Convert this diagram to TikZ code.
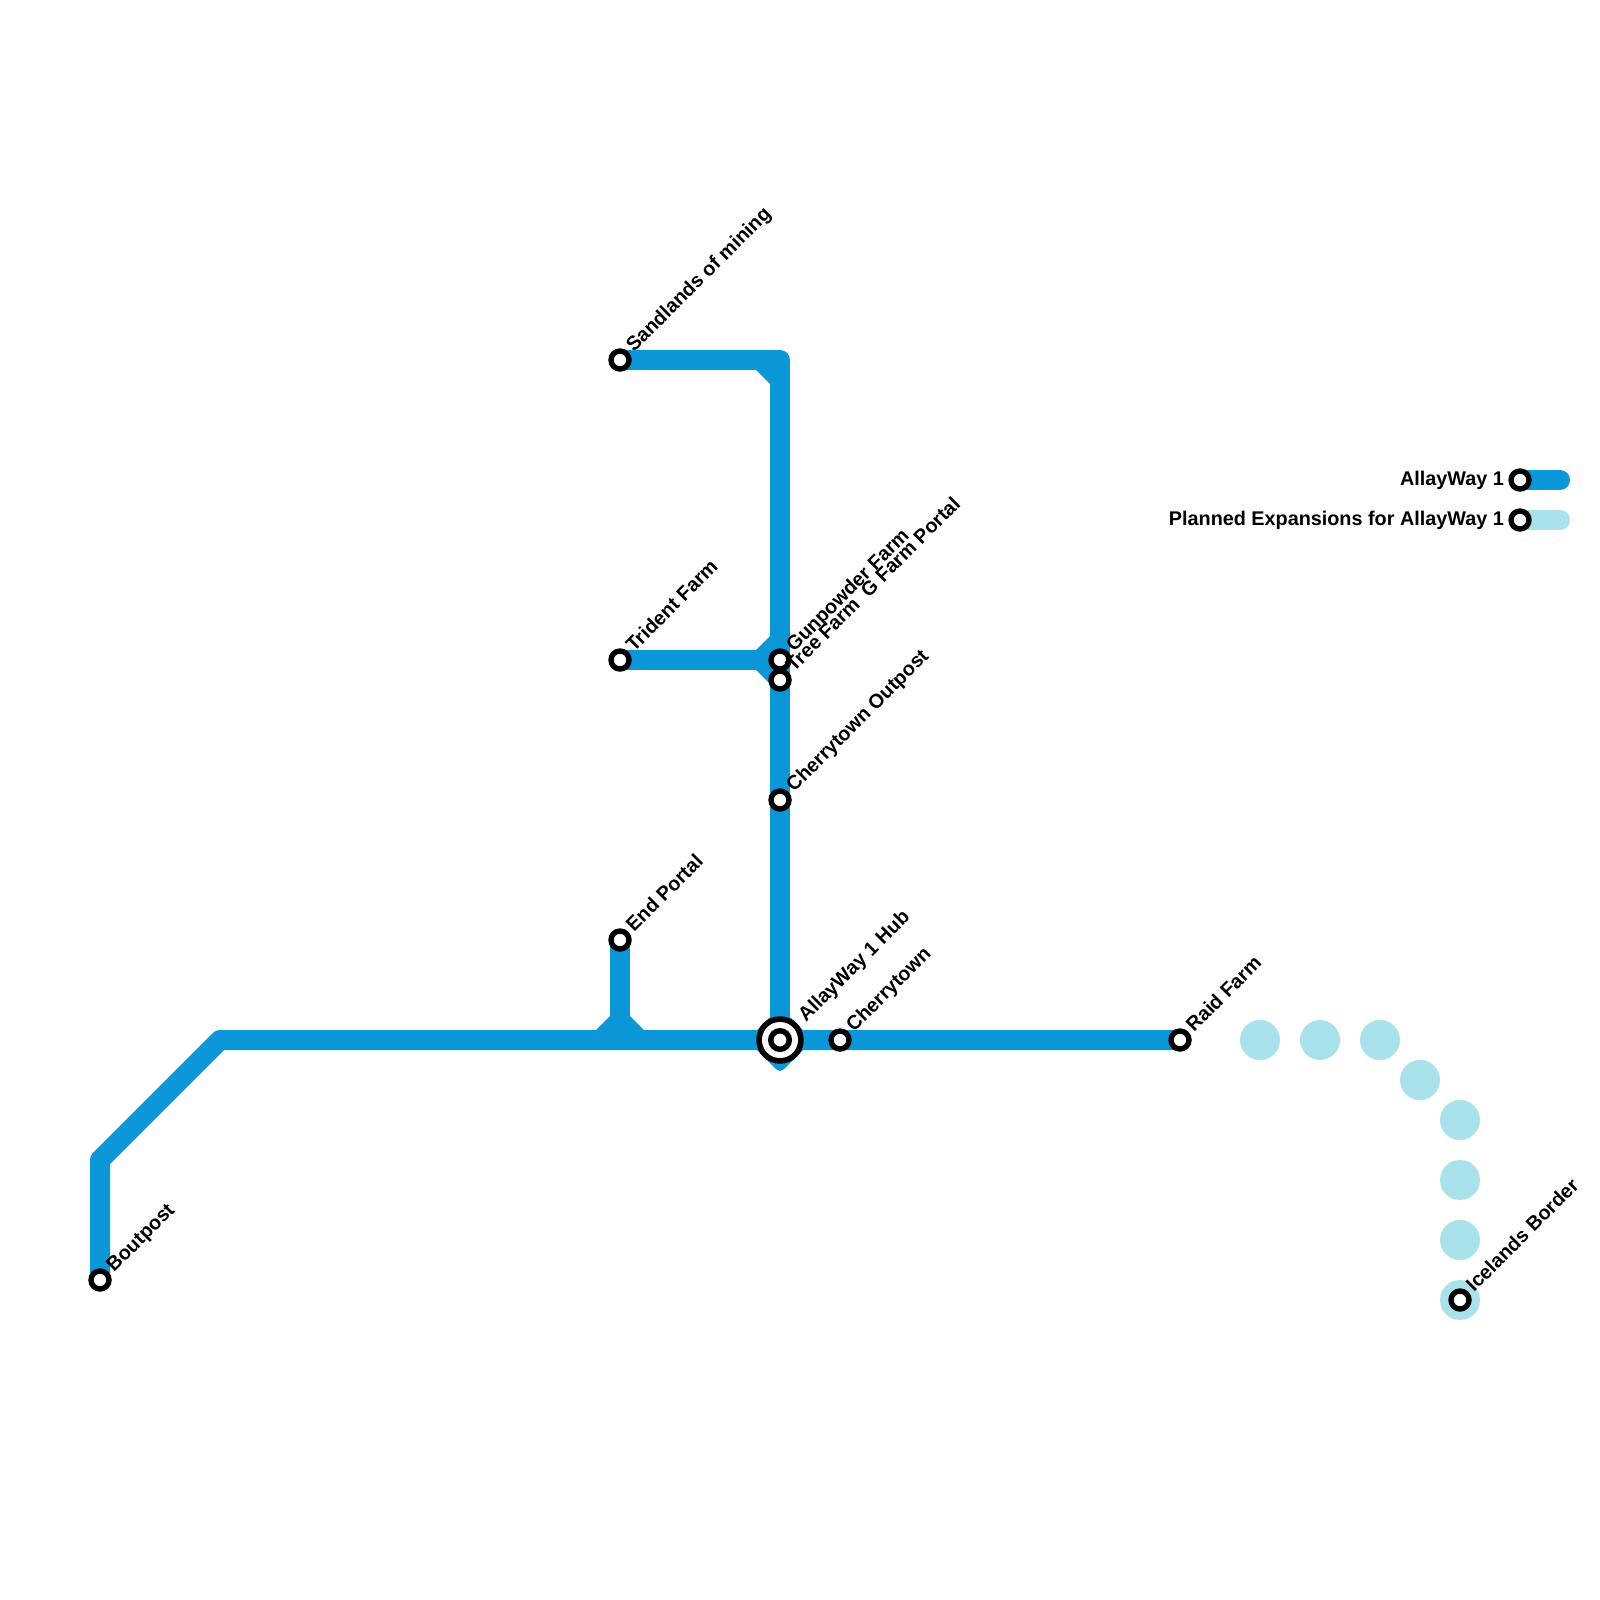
\documentclass[tikz,border=0pt]{standalone}
\usepackage{fontspec}
\setmainfont{Liberation Sans}
\definecolor{lineblue}{HTML}{0A96D7}
\definecolor{planned}{HTML}{A9E2EB}
\tikzset{
  x=1pt,y=-1pt,
  metro/.style={draw=lineblue,line width=20pt,line join=round,line cap=butt},
  legendline/.style={line width=20pt,line cap=round},
  wedge/.style={fill=lineblue,draw=none},
  station/.style={circle,draw=black,fill=white,line width=5.4pt,minimum size=18pt,inner sep=0pt,outer sep=0pt},
  hubdisc/.style={circle,draw=none,fill=black,minimum size=47.5pt,inner sep=0pt,outer sep=0pt},
  hubgap/.style={circle,draw=none,fill=white,minimum size=36pt,inner sep=0pt,outer sep=0pt},
  hubring/.style={circle,draw=black,fill=white,line width=5.5pt,minimum size=18.5pt,inner sep=0pt,outer sep=0pt},
  plannedstop/.style={circle,fill=planned,minimum size=40pt,inner sep=0pt,outer sep=0pt},
  stationlabel/.style={rotate=45,anchor=base west,inner sep=0pt,font=\bfseries\fontsize{19.8}{22}\selectfont,text=black},
  legendlabel/.style={anchor=base east,inner sep=0pt,font=\bfseries\fontsize{19.8}{22}\selectfont,text=black},
}
\begin{document}
\begin{tikzpicture}
\useasboundingbox[fill=white] (0,0) rectangle (1600,1600);
% free points of the lines
\coordinate (bendA) at (100,1160);
\coordinate (bendB) at (220,1040);
\coordinate (cornerTop) at (780,360);
\coordinate (juncEnd) at (620,1040);
\coordinate (legendEndA) at (1560,480);
\coordinate (legendEndB) at (1560,520);
% planned stops
\foreach \n/\px/\py in {pa/1260/1040,pb/1320/1040,pc/1380/1040,pd/1420/1080,pe/1460/1120,pf/1460/1180,pg/1460/1240,ph/1460/1300}
  \node[plannedstop] (\n) at (\px,\py) {};
% junction wedges
\fill[wedge] (596,1030) -- (610,1016) -- (630,1016) -- (644,1030) -- cycle;
\fill[wedge] (756,370) -- (770,384) -- (770,370) -- cycle;
\fill[wedge] (756,650) -- (770,636) -- (770,684) -- (756,670) -- cycle;
\fill[wedge,rounded corners=5pt] (780,1007) -- (813,1040) -- (780,1073) -- (747,1040) -- cycle;
% positions of stations
\coordinate (boutpost) at (100,1280);
\coordinate (endportal) at (620,940);
\coordinate (sandlands) at (620,360);
\coordinate (trident) at (620,660);
\coordinate (gunpowder) at (780,660);
\coordinate (treefarm) at (780,680);
\coordinate (outpost) at (780,800);
\coordinate (hub) at (780,1040);
\coordinate (cherrytown) at (840,1040);
\coordinate (raid) at (1180,1040);
\coordinate (iceland) at (1460,1300);
\coordinate (legendA) at (1520,480);
\coordinate (legendB) at (1520,520);
% lines
\draw[metro] (boutpost) -- (bendA) -- (bendB) -- (hub) -- (raid);
\draw[metro] (endportal) -- (juncEnd);
\draw[metro] (sandlands) -- (cornerTop) -- (hub);
\draw[metro] (trident) -- (gunpowder);
\draw[legendline,draw=lineblue] (legendA) -- (legendEndA);
\draw[legendline,draw=planned] (legendB) -- (legendEndB);
% station markers above the lines
\node[station] (sboutpost) at (boutpost) {};
\node[station] (sendportal) at (endportal) {};
\node[station] (ssandlands) at (sandlands) {};
\node[station] (strident) at (trident) {};
\node[station] (sgunpowder) at (gunpowder) {};
\node[station] (streefarm) at (treefarm) {};
\node[station] (soutpost) at (outpost) {};
\node[hubdisc] (shubdisc) at (hub) {};
\node[hubgap] (shubgap) at (hub) {};
\node[hubring] (shub) at (hub) {};
\node[station] (scherrytown) at (cherrytown) {};
\node[station] (sraid) at (raid) {};
\node[station] (siceland) at (iceland) {};
\node[station] (slegendA) at (legendA) {};
\node[station] (slegendB) at (legendB) {};
% labels
\node[stationlabel] (lboutpost) at (114,1273) {Boutpost};
\node[stationlabel] (lend) at (634,933) {End Portal};
\node[stationlabel] (lsand) at (634,353) {Sandlands of mining};
\node[stationlabel] (ltrident) at (634,653) {Trident Farm};
\node[stationlabel] (lgun) at (794,653) {Gunpowder Farm};
\node[stationlabel] (ltree) at (794,673) {Tree Farm\ \ G Farm Portal};
\node[stationlabel] (lout) at (794,793) {Cherrytown Outpost};
\node[stationlabel] (lhub) at (806,1023) {AllayWay 1 Hub};
\node[stationlabel] (lcherry) at (854,1033) {Cherrytown};
\node[stationlabel] (lraid) at (1194,1033) {Raid Farm};
\node[stationlabel] (lice) at (1474,1293) {Icelands Border};
\node[legendlabel] (llegA) at (1504,485) {AllayWay 1};
\node[legendlabel] (llegB) at (1504,525) {Planned Expansions for AllayWay 1};
\end{tikzpicture}
\end{document}
